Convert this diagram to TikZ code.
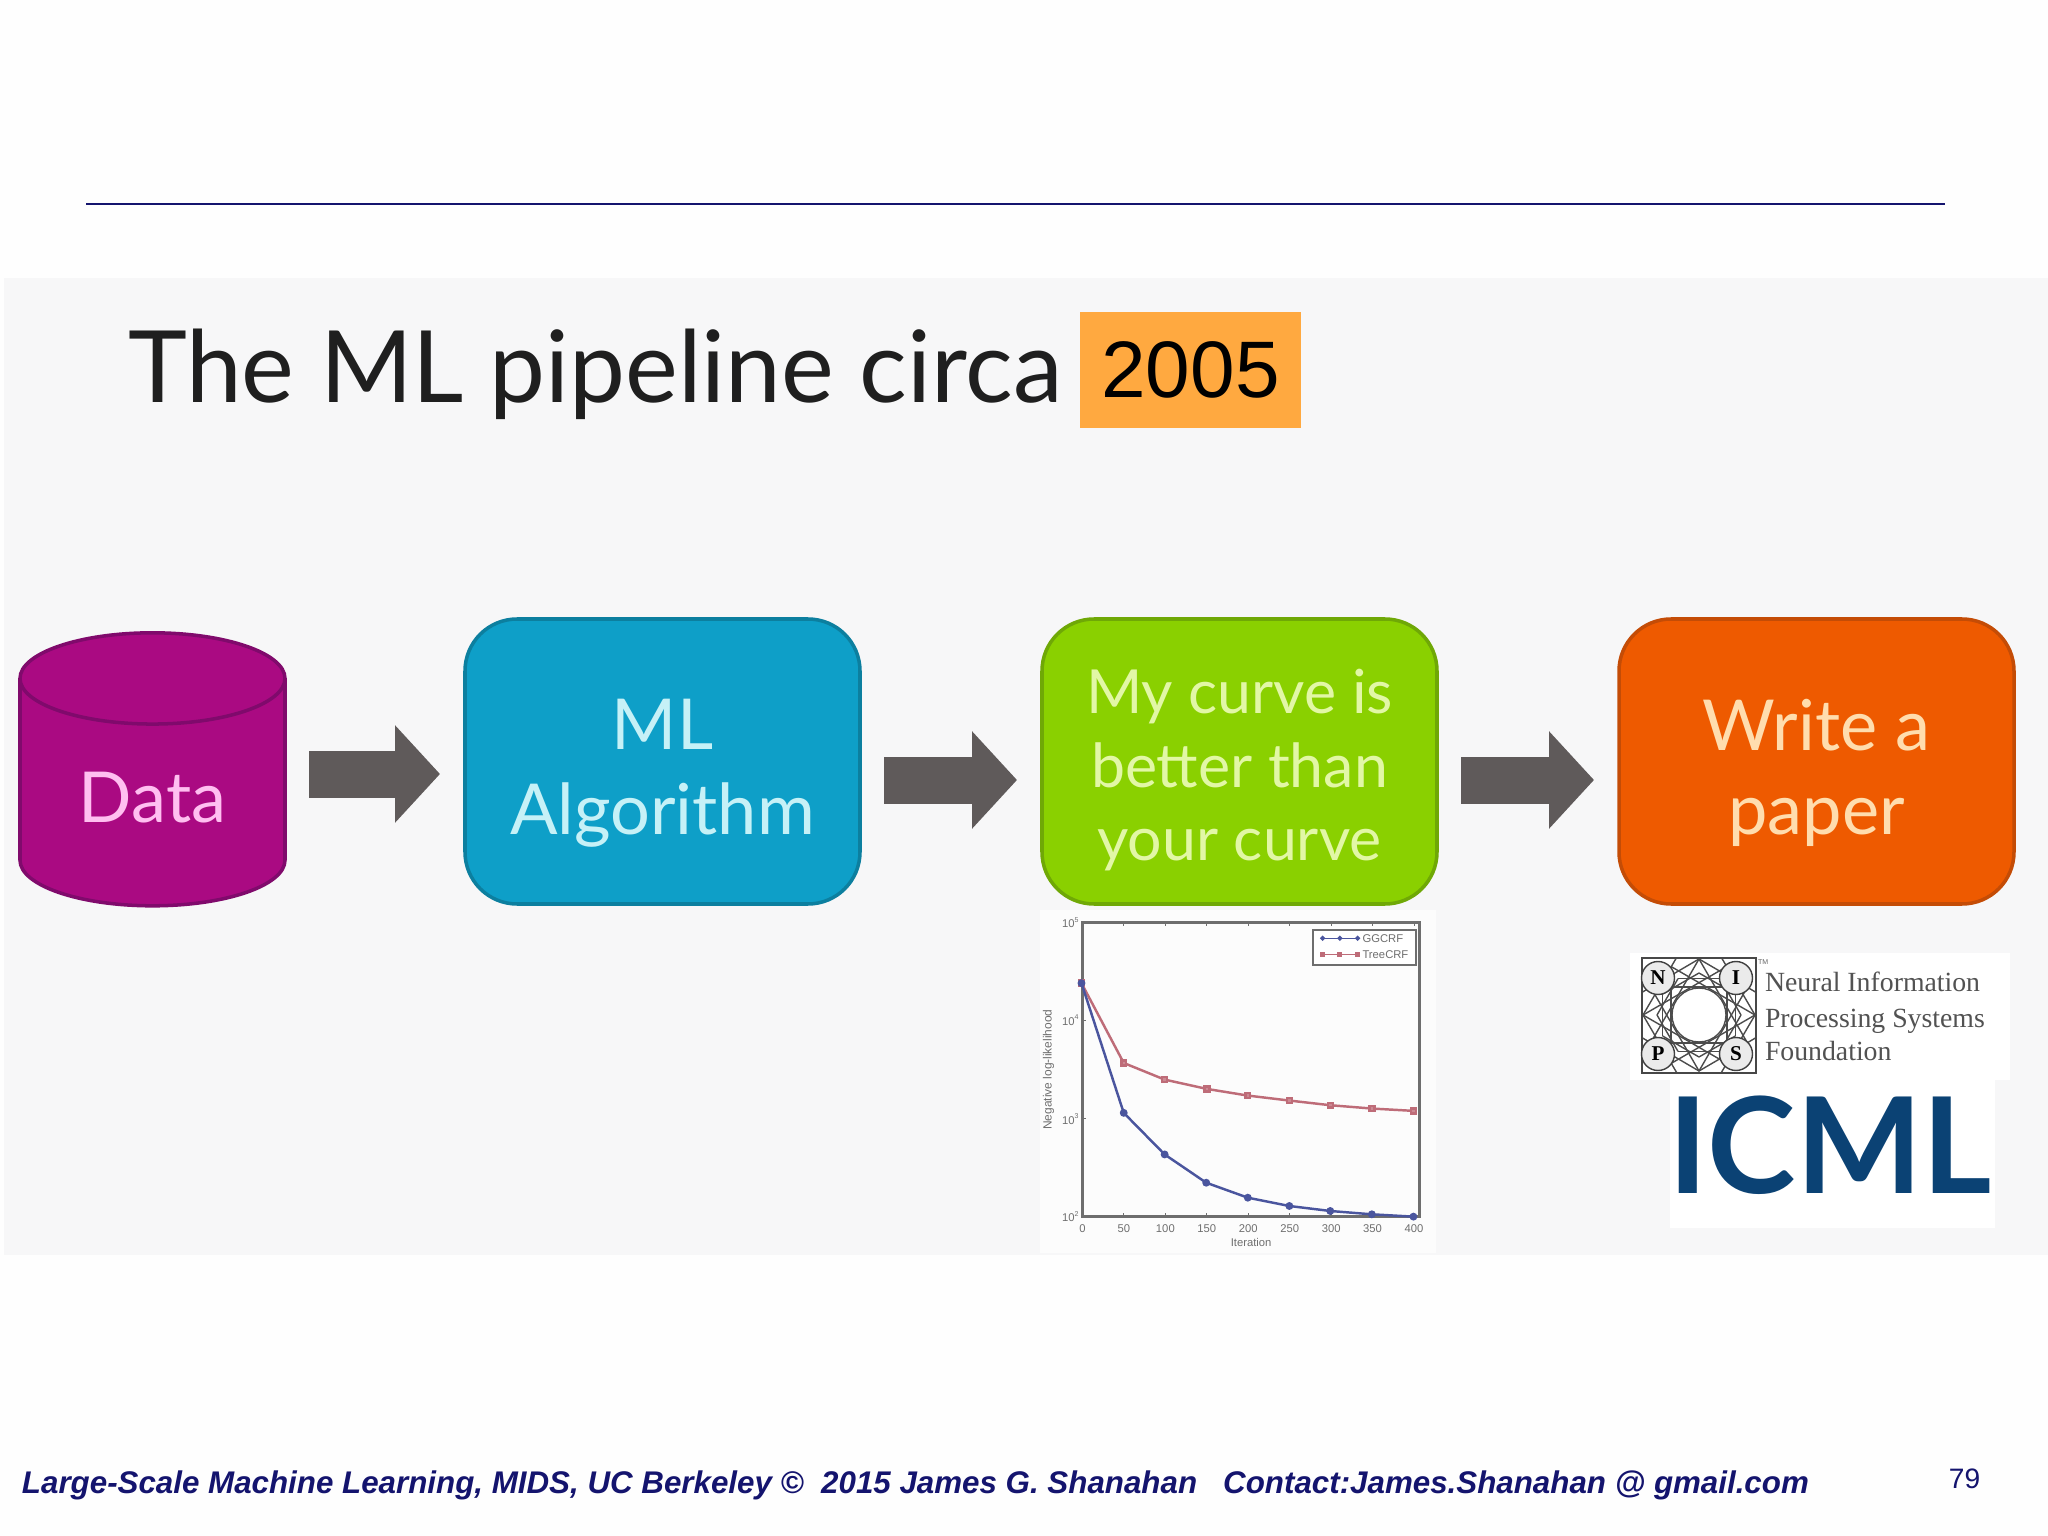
\documentclass[tikz,border=0pt]{standalone}
\usepackage{fontspec}
\setmainfont{Lato}
\newfontfamily\arialfont{Liberation Sans}
\newfontfamily\logofont{Liberation Serif}
\usetikzlibrary{positioning, arrows.meta, shapes.geometric, plotmarks}
\definecolor{panelgray}{HTML}{F7F7F8}
\definecolor{rulenavy}{HTML}{14146E}
\definecolor{yearorange}{HTML}{FFA940}
\definecolor{flowgray}{HTML}{5F5A5A}
\definecolor{datafill}{HTML}{AA0A82}
\definecolor{dataline}{HTML}{800A6C}
\definecolor{datatext}{HTML}{FFBFF0}
\definecolor{mlfill}{HTML}{0E9FC8}
\definecolor{mlline}{HTML}{0C7F9F}
\definecolor{mltext}{HTML}{C6F1F7}
\definecolor{curvefill}{HTML}{8AD000}
\definecolor{curveline}{HTML}{6FA806}
\definecolor{curvetext}{HTML}{E2F7A6}
\definecolor{paperfill}{HTML}{EE5A00}
\definecolor{paperline}{HTML}{C44C06}
\definecolor{papertext}{HTML}{FFDDAE}
\definecolor{plotblue}{HTML}{4A559E}
\definecolor{plotred}{HTML}{BE6C78}
\definecolor{plotaxis}{HTML}{6E6E6E}
\definecolor{icmlblue}{HTML}{0B4274}
\tikzset{%
  node distance=1.82cm,
  every node/.style={outer sep=0pt},
  stepbox/.style={draw, rounded corners=0.52cm, line width=1pt, align=center,
    minimum width=3.95cm, minimum height=2.85cm, inner sep=0pt,
    font=\fontsize{20}{24}\selectfont, text height=45pt},
  flowarrow/.style={draw=flowgray, line width=0.47cm, shorten <=0.24cm, shorten >=0.25cm,
    -{Triangle[length=0.45cm, width=0.95cm, fill=flowgray]}},
  ticklabel/.style={text=plotaxis, inner sep=0pt, font=\arialfont\fontsize{3.2}{4}\selectfont},
  logotext/.style={anchor=base west, inner sep=0pt, text=black!68, font=\logofont\fontsize{7.9}{9}\selectfont}
}
\begin{document}
\begin{tikzpicture}

\useasboundingbox (0,0) rectangle (20.48,-15.36);
\fill[black!0.5] (0,0) rectangle (20.48,-15.36);
\fill[panelgray] (0.04,-2.78) rectangle (20.48,-12.55);
\draw[rulenavy, line width=0.85pt] (0.86,-2.04) -- (19.45,-2.04);

% heading
\node[anchor=base west, inner sep=0pt, text=black!88, font=\fontsize{28.4}{32}\selectfont] (title) at (1.28,-4.03) {The ML pipeline circa};
\node[fill=yearorange, minimum width=2.21cm, minimum height=1.16cm, inner sep=0pt, font=\arialfont\fontsize{22.8}{26}\selectfont] (year) at (11.905,-3.70) {2005};

% pipeline
\node[cylinder, shape border rotate=90, aspect=0.62, draw=dataline, line width=1pt,
  cylinder uses custom fill, cylinder body fill=datafill, cylinder end fill=datafill,
  minimum width=2.65cm, minimum height=2.73cm, inner sep=0pt, text=datatext,
  font=\fontsize{20}{24}\selectfont, text height=17pt] (data) at (1.525,-7.93) {Data};
\node[stepbox, draw=mlline, fill=mlfill, text=mltext] (ml) at (6.625,-7.615) {ML\\Algorithm};
\node[stepbox, right=of ml, draw=curveline, fill=curvefill, text=curvetext,
  font=\fontsize{17.3}{21}\selectfont, text height=59.5pt] (curve) {My curve is\\better than\\your curve};
\node[stepbox, right=of curve, draw=paperline, fill=paperfill, text=papertext] (paper) {Write a\\paper};

\coordinate (row1) at (0,-7.74);
\coordinate (row2) at (0,-7.80);
\draw[flowarrow] (data.east |- row1) -- (ml.west |- row1);
\draw[flowarrow] (ml.east |- row2) -- (curve.west |- row2);
\draw[flowarrow] (curve.east |- row2) -- (paper.west |- row2);

% plot, in steps of a third of a pixel
\begin{scope}[shift={(10,-9)}, x=0.003333cm, y=-0.003333cm]
\fill[black!1] (120,30) rectangle (1310,1060);
\draw[plotaxis, line width=0.8pt] (248,68) rectangle (1262,952);
\foreach \t [count=\i from 0] in {0,50,...,400} {
  \draw[plotaxis, line width=0.3pt] ({248+\i*124.6},952) -- ++(0,-10);
  \draw[plotaxis, line width=0.3pt] ({248+\i*124.6},68) -- ++(0,10);
  \node[ticklabel] (xt\i) at ({248+\i*124.6},988) {\t};
}
\foreach \e/\y in {5/68,4/362,3/658,2/952} {
  \draw[plotaxis, line width=0.3pt] (248,\y) -- ++(10,0);
  \node[ticklabel, anchor=east] (yt\e) at (236,\y) {10\raisebox{1.6pt}{\fontsize{2}{2}\selectfont\e}};
}
\node[ticklabel] (xlabel) at (755,1030) {Iteration};
\node[ticklabel, rotate=90, font=\arialfont\fontsize{3.4}{4}\selectfont] (ylabel) at (146,510) {Negative log-likelihood};

\draw[plotred, line width=0.7pt] plot[mark=square*, mark size=0.7pt, mark options={fill=plotred!80!white}] coordinates
  {(245,250) (372,490) (495,540) (622,568) (745,588) (870,603) (993,617) (1118,627) (1243,634)};
\draw[plotblue, line width=0.7pt] plot[mark=*, mark size=0.75pt] coordinates
  {(245,250) (372,640) (495,765) (620,850) (745,895) (870,920) (993,935) (1118,945) (1243,952)};

\node[draw=plotaxis, fill=white, line width=0.5pt, minimum width=1.024cm, minimum height=0.35cm, inner sep=0pt] (legend) at (1096,142) {};
\draw[plotblue, line width=0.4pt] plot[mark=*, mark size=0.5pt] coordinates {(970,115) (1022,115) (1075,115)};
\draw[plotred, line width=0.4pt] plot[mark=square*, mark size=0.5pt] coordinates {(970,163) (1022,163) (1075,163)};
\node[ticklabel, anchor=west] (lega) at (1090,115) {GGCRF};
\node[ticklabel, anchor=west] (legb) at (1090,163) {TreeCRF};
\end{scope}

% logos
\fill[white] (16.30,-9.53) rectangle (20.10,-10.80);
\fill[white] (16.70,-10.75) rectangle (19.95,-12.28);
\begin{scope}[shift={(16.99,-10.15)}]
\clip (-0.57,0.57) rectangle (0.57,-0.58);
\foreach \a in {0,30,...,330} {
  \draw[black!70, line width=0.4pt] (\a:0.56) -- (\a+120:0.56);
  \draw[black!70, line width=0.4pt] (\a:0.42) -- (\a+60:0.42);
}
\foreach \a in {0,90,180,270} {
  \draw[black!70, line width=0.4pt] (\a+75:0.68) -- (\a:0.56) -- (\a-75:0.68);
}
\end{scope}
\draw[black!72, line width=0.8pt] (16.42,-9.58) rectangle (17.56,-10.73);
\node[circle, draw=black!70, fill=white, line width=0.4pt, minimum size=0.54cm, inner sep=0pt] (ring) at (16.99,-10.15) {};
\foreach \c/\s/\x/\y in {n/N/16.58/-9.78, i/I/17.36/-9.78, p/P/16.58/-10.54, s/S/17.36/-10.54} {
  \node[circle, draw=black!75, fill=white!92!black, line width=0.4pt, minimum size=0.33cm, inner sep=0pt, font=\logofont\bfseries\fontsize{6}{7}\selectfont] (\c) at (\x,\y) {\s};
}
\node[anchor=west, inner sep=0pt, text=black!60, font=\arialfont\fontsize{2}{2}\selectfont] (tm) at (17.58,-9.62) {TM};
\node[logotext] (nips1) at (17.65,-9.92) {Neural Information};
\node[logotext] (nips2) at (17.65,-10.27) {Processing Systems};
\node[logotext] (nips3) at (17.65,-10.60) {Foundation};
\node[anchor=base west, inner sep=0pt, text=icmlblue, font=\bfseries\fontsize{38}{40}\selectfont] (icml) at (16.68,-11.93) {ICML};

% footer
\node[anchor=base west, inner sep=0pt, text=rulenavy, font=\arialfont\bfseries\itshape\fontsize{8.91}{11}\selectfont] (footer) at (0.22,-14.93)
  {Large-Scale Machine Learning, MIDS, UC Berkeley ©~~2015 James G. Shanahan~~~Contact:James.Shanahan @ gmail.com};
\node[text=rulenavy, inner sep=0pt, font=\arialfont\fontsize{8}{10}\selectfont] (page) at (19.645,-14.79) {79};

\end{tikzpicture}
\end{document}
